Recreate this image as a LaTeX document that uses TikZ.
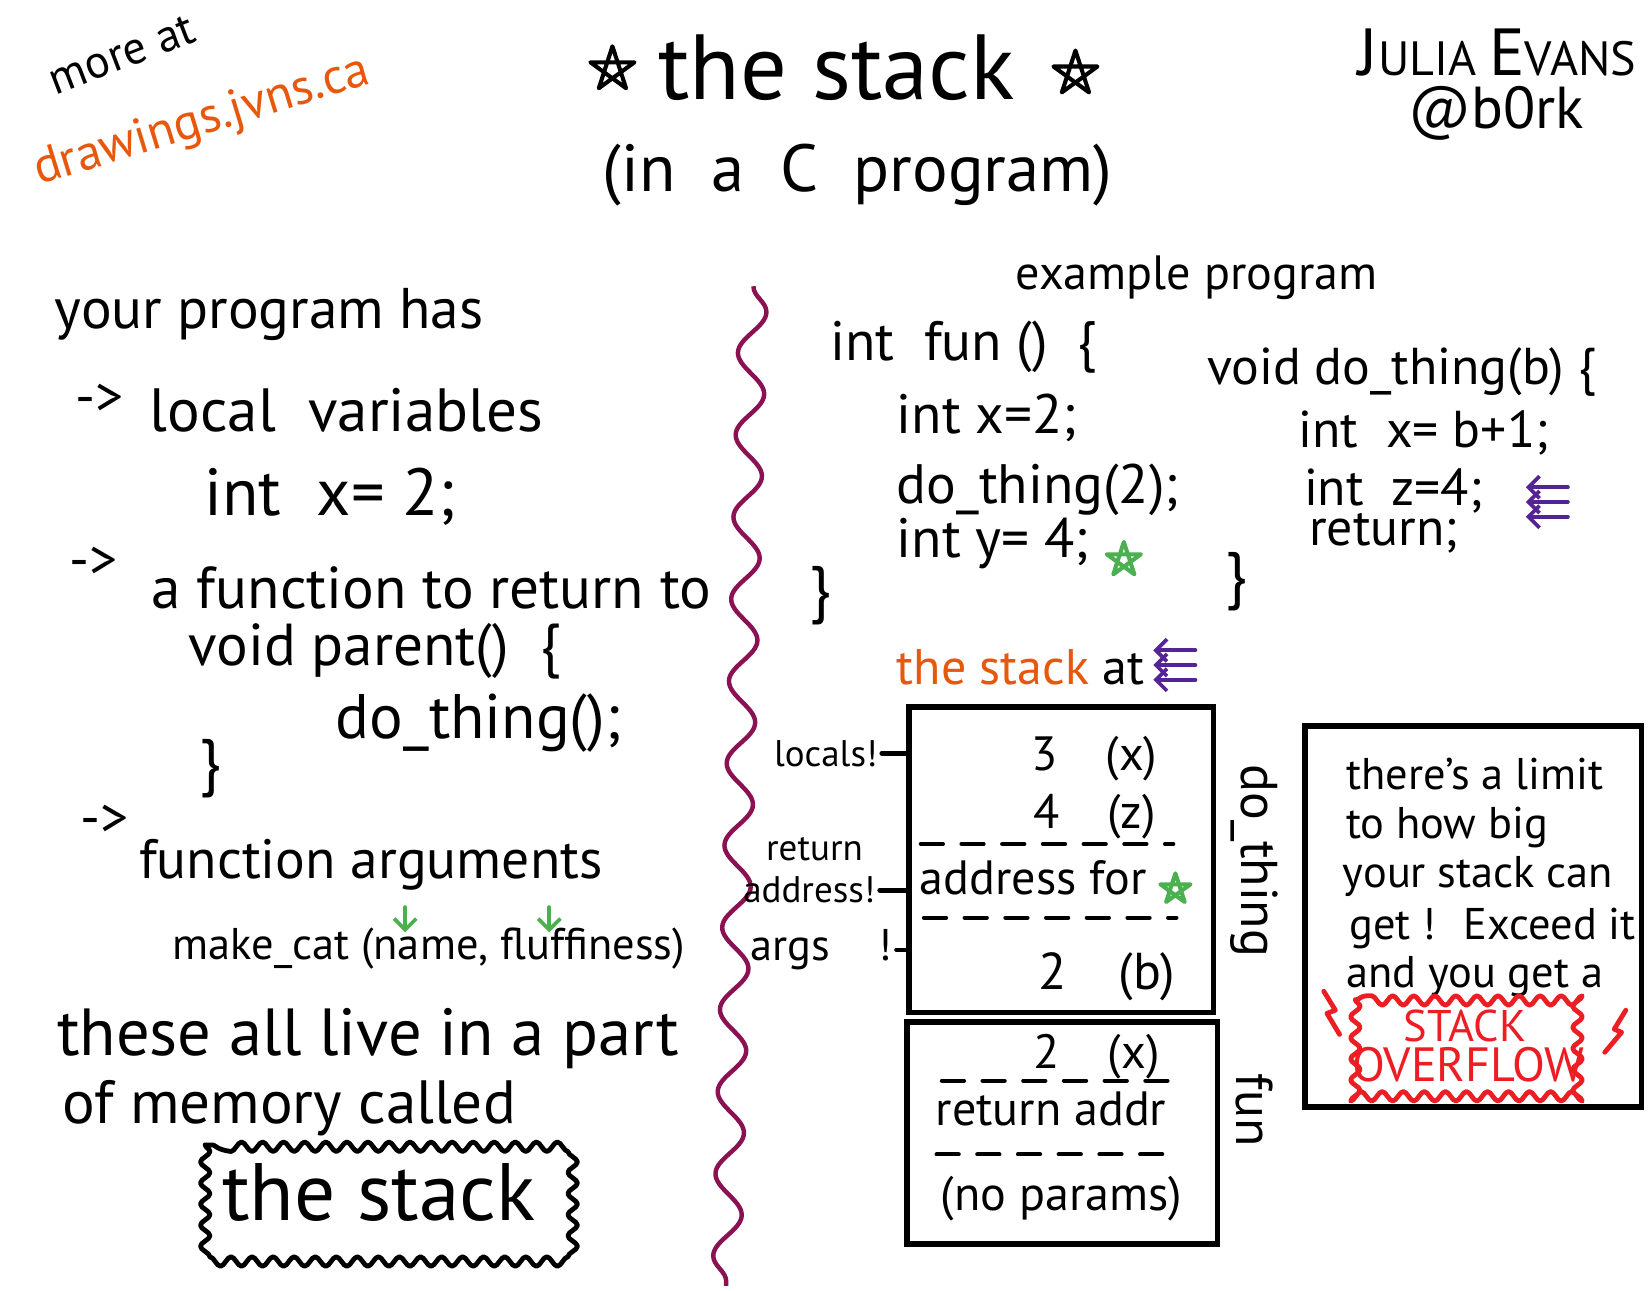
\documentclass[tikz,border=0pt]{standalone}
\usepackage{fontspec}
\setmainfont{PT Sans}
\usepackage{xcolor}
\usetikzlibrary{positioning, arrows.meta, decorations.pathmorphing}
\definecolor{linkorange}{RGB}{232,88,12}
\definecolor{stargreen}{RGB}{76,176,80}
\definecolor{nowpurple}{RGB}{84,36,150}
\definecolor{waveplum}{RGB}{138,18,82}
\definecolor{alarmred}{RGB}{236,30,36}
\newcommand{\fsz}[1]{\fontsize{#1}{#1}\selectfont}

\begin{document}
\begin{tikzpicture}[x=0.01cm, y=-0.01cm, every node/.style={inner sep=1pt},
  hand/.style={font=\fsz{#1}, anchor=base west}, hand/.default=15,
  centred/.style={font=\fsz{#1}, anchor=base}, centred/.default=15,
  tag/.style={font=\fsz{#1}, anchor=base east}, tag/.default=10,
  ink/.style={line width=1.3pt, line cap=round, line join=round},
  stackbox/.style={draw, line width=1.5pt},
  cutline/.style={ink, line width=1.1pt, dash pattern=on 6pt off 5pt},
  wavy/.style={decorate, decoration={snake, segment length=#1, amplitude=0.045cm}},
  smallarrow/.style={ink, line width=1pt, -{Straight Barb[length=3pt, width=6pt]}},
  pics/pentastar/.style={code={\draw[ink, line width=1.1pt] (90:#1) -- (234:#1) -- (18:#1)
      -- (162:#1) -- (306:#1) -- cycle;}},
  pics/nowmark/.style={code={\foreach \dy in {0.14,0,-0.14}
      \draw[smallarrow, nowpurple] (0.4cm,\dy cm) -- (0,\dy cm);}}]
% page
\fill[white] (0,0) rectangle (1568,1226);
\useasboundingbox (0,0) rectangle (1568,1226);

% header
\node[font=\fsz{12.5}, rotate=21] (more) at (116,52) {more at};
\node[font=\fsz{13.5}, rotate=17, text=linkorange] (site) at (192,116) {drawings.jvns.ca};
\node[centred=25] (title) at (795,95) {the stack};
\pic at (582,66) {pentastar=0.22cm};
\pic at (1022,70) {pentastar=0.22cm};
\node[centred=18] (sub) at (815,182) {(in~ a~ C~ program)};
\node[centred=13] (author) at (1423,72) {{\fsz{18}J}ULIA {\fsz{18}E}VANS};
\node[centred=16] (handle) at (1422,122) {@b0rk};

% left half
\node[hand=15.5] (has) at (48,312) {your program has};
\node[hand=15] (ptA) at (68,395) {->};
\node[hand=16.5] (local) at (138,410) {local~ variables};
\node[hand=18] (intx) at (190,490) {int~ x= 2;};
\node[hand=15] (ptB) at (62,550) {->};
\node[hand=16] (retto) at (140,578) {a function to return to};
\node[hand=16] (parent) at (175,632) {void parent()~ \{};
\node[hand=17] (call) at (315,702) {do\_thing();};
\node[hand=17] (pclose) at (185,745) {\}};
\node[hand=15] (ptC) at (72,795) {->};
\node[hand=15] (fargs) at (128,835) {function arguments};
\node[hand=12] (mkcat) at (160,912) {make\_cat (name, fluffiness)};
\draw[smallarrow, stargreen] (385,862) -- (385,886);
\draw[smallarrow, stargreen] (522,862) -- (522,886);
\node[hand=18] (live) at (50,1003) {these all live in a part};
\node[hand=16.5] (memory) at (55,1068) {of memory called};
\node[centred=22] (stk) at (360,1160) {the stack};
\draw[ink, wavy=0.2cm] (195,1088) rectangle (533,1190);

\draw[waveplum, line width=1.2pt, decorate,
  decoration={snake, segment length=0.78cm, amplitude=0.13cm}] (716,272) -- (690,1222);

% example program
\node[centred=13] (example) at (1137,275) {example program};
\node[hand=15] (funA) at (785,343) {int~ fun ()~ \{};
\node[hand=15] (funB) at (848,412) {int x=2;};
\node[hand=15] (funC) at (848,478) {do\_thing(2);};
\node[hand=15] (funD) at (848,530) {int y= 4;};
\pic[stargreen] at (1068,532) {pentastar=0.17cm};
\node[hand=17] (funE) at (765,580) {\}};
\node[hand=14] (dtA) at (1143,365) {void do\_thing(b) \{};
\node[hand=14] (dtB) at (1230,425) {int~ x= b+1;};
\node[hand=14] (dtC) at (1235,480) {int~ z=4;};
\node[hand=14] (dtD) at (1240,518) {return;};
\node[hand=17] (dtE) at (1160,567) {\}};
\pic at (1450,477) {nowmark};

% the stack
\node[hand=13.5] (snap) at (848,650) {\textcolor{linkorange}{the stack} at};
\pic at (1096,632) {nowmark};
\node[stackbox, minimum width=2.89cm, minimum height=2.9cm] (frameA) at (1008.5,817) {};
\node[stackbox, minimum width=2.95cm, minimum height=2.11cm] (frameB) at (1009.5,1076.5) {};
\node[centred=13] (slotX) at (1040,732) {3\quad (x)};
\node[centred=13] (slotZ) at (1040,787) {4\quad (z)};
\draw[cutline] (875,802) -- (1115,802);
\node[hand=13] (slotR) at (870,850) {address for};
\pic[stargreen] at (1117,845) {pentastar=0.15cm};
\draw[cutline] (878,872) -- (1118,872);
\node[centred=14] (slotB) at (1052,940) {2\quad (b)};
\node[centred=13] (slotX2) at (1042,1015) {2\quad (x)};
\draw[cutline] (895,1027) -- (1115,1027);
\node[hand=13] (slotR2) at (885,1070) {return addr};
\draw[cutline] (890,1097) -- (1105,1097);
\node[hand=13] (slotP) at (890,1150) {(no params)};

\node[tag] (lbLoc) at (838,728) {locals!};
\draw[ink] (lbLoc.east) -- (lbLoc.east -| frameA.west);
\node[centred=10] (lbRet) at (774,818) {return};
\node[tag] (lbAddr) at (836,858) {address!};
\draw[ink] (lbAddr.east) -- (lbAddr.east -| frameA.west);
\node[tag=12] (lbArgs) at (852,913) {args\hspace{1.1em}!};
\draw[ink] (lbArgs.east) -- (lbArgs.east -| frameA.west);
\node[font=\fsz{14}, rotate=-90] (nameA) at (1192,818) {do\_thing};
\node[font=\fsz{14}, rotate=-90] (nameB) at (1192,1055) {fun};

% the limit
\node[stackbox, minimum width=3.2cm, minimum height=3.62cm] (limit) at (1400,871) {};
\node[hand=12] (lmA) at (1275,750) {there's a limit};
\node[hand=12] (lmB) at (1275,797) {to how big};
\node[hand=12] (lmC) at (1272,843) {your stack can};
\node[hand=12] (lmD) at (1278,893) {get !~ Exceed it};
\node[hand=12] (lmE) at (1275,938) {and you get a};
\node[centred=12, text=alarmred] (ovA) at (1392,990) {STACK};
\node[centred=13, text=alarmred] (ovB) at (1395,1028) {OVERFLOW};
\draw[alarmred, ink, wavy=0.2cm] (1288,950) rectangle (1505,1045);
\draw[alarmred, ink] (1258,942) -- (1269,960) -- (1261,963) -- (1273,983);
\draw[alarmred, ink] (1545,960) -- (1534,978) -- (1541,981) -- (1525,1000);
\end{tikzpicture}
\end{document}
